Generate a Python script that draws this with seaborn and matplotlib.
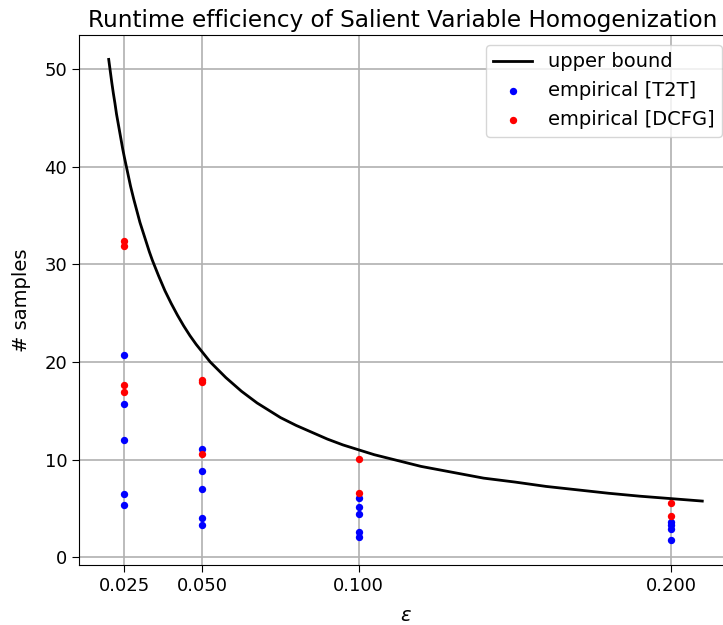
import matplotlib
matplotlib.use("Agg")
import matplotlib.pyplot as plt
import pandas as pd
import seaborn as sns

# upper bound curve
bound_eps = [0.020, 0.0205, 0.021, 0.0215, 0.022, 0.0225, 0.023, 0.0235, 0.024, 0.0245,
             0.025, 0.026, 0.027, 0.028, 0.029, 0.030, 0.031, 0.032, 0.033, 0.034,
             0.035, 0.036, 0.038, 0.040, 0.042, 0.044, 0.046, 0.048, 0.050, 0.0525,
             0.055, 0.0575, 0.060, 0.0625, 0.065, 0.0675, 0.070, 0.075, 0.080, 0.085,
             0.090, 0.095, 0.100, 0.105, 0.110, 0.115, 0.120, 0.125, 0.130, 0.140,
             0.150, 0.160, 0.170, 0.180, 0.190, 0.200, 0.210]
bound_samples = [51.0, 49.8, 48.6, 47.5, 46.5, 45.4, 44.5, 43.6, 42.7, 41.8,
                 41.0, 39.5, 38.0, 36.7, 35.5, 34.3, 33.3, 32.3, 31.3, 30.4,
                 29.6, 28.8, 27.3, 26.0, 24.8, 23.7, 22.7, 21.8, 21.0, 20.0,
                 19.2, 18.4, 17.7, 17.0, 16.4, 15.8, 15.3, 14.3, 13.5, 12.8,
                 12.1, 11.5, 11.0, 10.5, 10.1, 9.7, 9.3, 9.0, 8.7, 8.1,
                 7.7, 7.25, 6.9, 6.55, 6.25, 6.0, 5.75]

# empirical runs
t2t_eps = [0.025] * 5 + [0.05] * 5 + [0.1] * 5 + [0.2] * 4
t2t_samples = [20.7, 15.7, 12.0, 6.5, 5.3,
               11.1, 8.8, 7.0, 4.0, 3.3,
               6.1, 5.15, 4.4, 2.6, 2.1,
               3.6, 3.25, 2.9, 1.75]
dcfg_eps = [0.025] * 4 + [0.05] * 3 + [0.1] * 2 + [0.2] * 2
dcfg_samples = [32.4, 31.9, 17.6, 16.9,
                18.2, 17.9, 10.55,
                10.1, 6.6,
                5.6, 4.2]

eps_ticks = [0.025, 0.05, 0.1, 0.2]
eps_ticklabels = ["0.025", "0.050", "0.100", "0.200"]

plt.rcParams["font.family"] = "DejaVu Sans"

fig = plt.figure(figsize=(7.23, 6.25), dpi=100)
ax = fig.add_axes([0.1093, 0.096, 0.9031, 0.848])

bound = pd.DataFrame({"eps": bound_eps, "samples": bound_samples})
t2t = pd.DataFrame({"eps": t2t_eps, "samples": t2t_samples})
dcfg = pd.DataFrame({"eps": dcfg_eps, "samples": dcfg_samples})

sns.lineplot(data=bound, x="eps", y="samples", color="black", linewidth=2,
             sort=False, label="upper bound", ax=ax)
sns.scatterplot(data=t2t, x="eps", y="samples", color="blue", s=28, linewidth=0,
                label="empirical [T2T]", ax=ax, zorder=3)
sns.scatterplot(data=dcfg, x="eps", y="samples", color="red", s=28, linewidth=0,
                label="empirical [DCFG]", ax=ax, zorder=3)

ax.set_xlim(0.0105, 0.2195)
ax.set_ylim(-0.8, 53.5)
ax.set_xticks(eps_ticks)
ax.set_xticklabels(eps_ticklabels)
ax.set_yticks([0, 10, 20, 30, 40, 50])
ax.tick_params(length=5, labelsize=13)
ax.grid(True, color="#b0b0b0", linewidth=1.2)
ax.set_axisbelow(True)
ax.set_xlabel(r"$\varepsilon$", fontsize=14, labelpad=8)
ax.set_ylabel("# samples", fontsize=14, labelpad=10)
# the axes run past the right edge of the figure, so pull the title in a little
ax.set_title("Runtime efficiency of Salient Variable Homogenization", fontsize=16.7, x=0.496)
ax.legend(loc="upper right", fontsize=14)

fig.savefig("out.png", dpi=100)
